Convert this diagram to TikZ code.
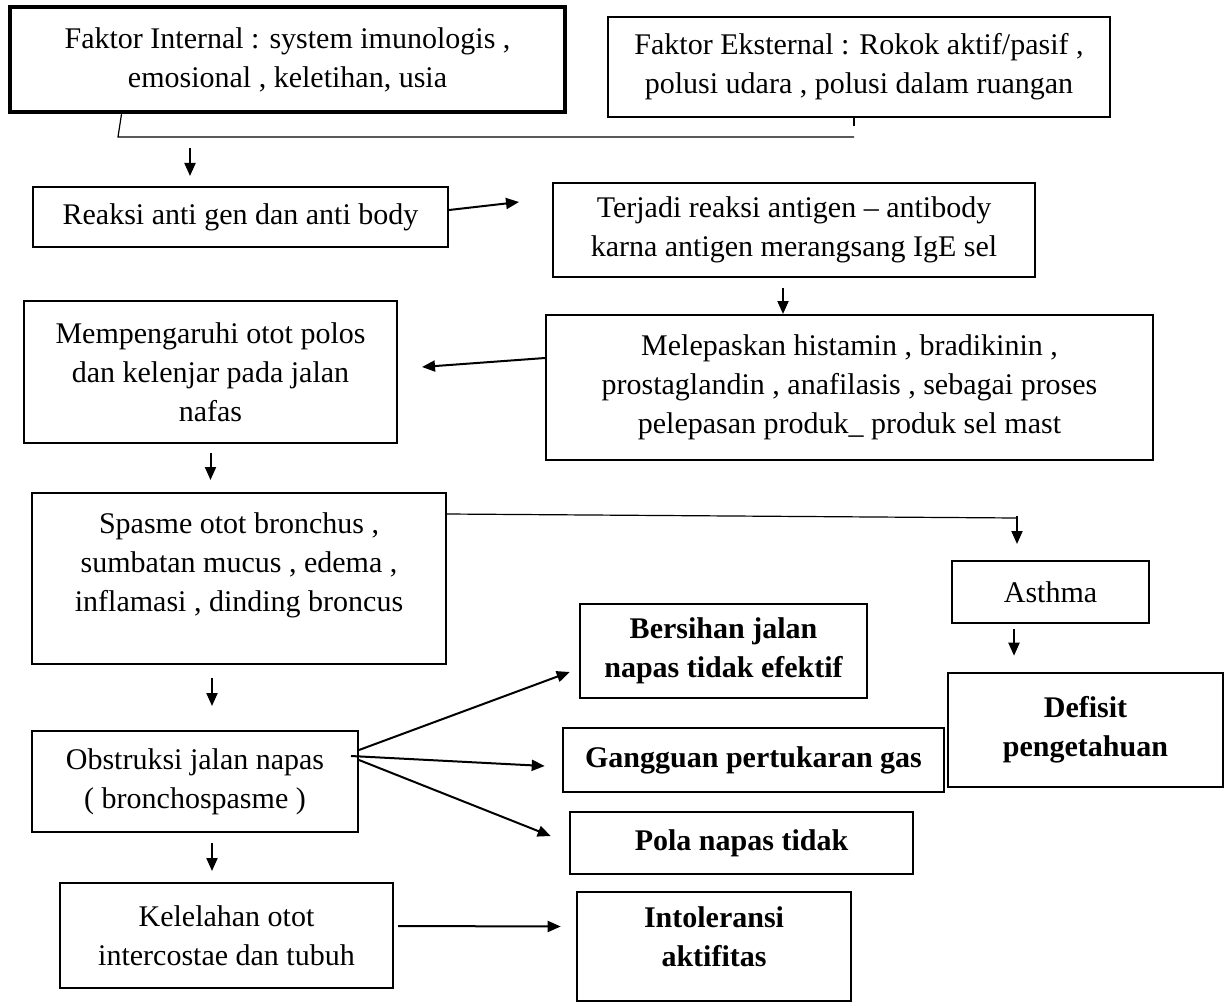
\documentclass[tikz,border=0pt]{standalone}
\usepackage{fontspec}
\setmainfont{Liberation Serif}
\usetikzlibrary{arrows.meta}
\tikzset{
every picture/.style={x=1pt,y=-1pt},
box/.style={draw, line width=2pt, inner sep=0pt, align=center, font=\fontsize{30}{39}\selectfont},
boldbox/.style={box, line width=2.6pt, font=\fontsize{30}{39}\selectfont\bfseries},
arr/.style={line width=2pt, -{Triangle[length=13pt,width=11pt]}},
link/.style={line width=1.2pt}
}

\begin{document}
\begin{tikzpicture}
  \useasboundingbox[fill=white] (0,0) rectangle (1230,1003);
  \node[box, line width=4.5pt, minimum width=555pt, minimum height=105pt] (internal) at (287.5,59.5) {Faktor Internal : system imunologis ,\\ emosional , keletihan, usia};
  \node[box, minimum width=502pt, minimum height=100pt] (external) at (859,67) {Faktor Eksternal : Rokok aktif/pasif ,\\ polusi udara , polusi dalam ruangan};
  \node[box, minimum width=415pt, minimum height=60pt] (reaksi) at (240.5,217) {Reaksi anti gen dan anti body};
  \node[box, minimum width=482pt, minimum height=94pt] (terjadi) at (794,230) {Terjadi reaksi antigen \textendash{} antibody\\ karna antigen merangsang IgE sel};
  \node[box, minimum width=607pt, minimum height=145pt] (lepas) at (849.5,387.5) {Melepaskan histamin , bradikinin ,\\ prostaglandin , anafilasis , sebagai proses\\ pelepasan produk\_ produk sel mast};
  \node[box, minimum width=373pt, minimum height=142pt] (pengaruh) at (210.5,372) {Mempengaruhi otot polos\\ dan kelenjar pada jalan\\ nafas};
  \node[box, minimum width=414pt, minimum height=171pt, text depth=32pt] (spasme) at (239,578.5) {Spasme otot bronchus ,\\ sumbatan mucus , edema ,\\ inflamasi , dinding broncus};
  \node[box, minimum width=197pt, minimum height=62pt] (asthma) at (1050.5,592) {Asthma};
  \node[boldbox, minimum width=287pt, minimum height=94pt] (bersih) at (723.5,651) {Bersihan jalan\\ napas tidak efektif};
  \node[boldbox, minimum width=275pt, minimum height=114pt] (defisit) at (1085.5,730) {Defisit\\ pengetahuan};
  \node[box, minimum width=326pt, minimum height=101pt] (obstruksi) at (195,781.5) {Obstruksi jalan napas\\ ( bronchospasme )};
  \node[boldbox, minimum width=381pt, minimum height=64pt] (gangguan) at (753.5,760) {Gangguan pertukaran gas};
  \node[boldbox, minimum width=343pt, minimum height=62pt] (pola) at (741.5,843) {Pola napas tidak};
  \node[box, minimum width=333pt, minimum height=105pt] (lelah) at (226.5,935.5) {Kelelahan otot\\ intercostae dan tubuh};
  \node[boldbox, minimum width=274pt, minimum height=109pt, text depth=20pt] (intol) at (714,946.5) {Intoleransi\\ aktifitas};

  \draw[link] ([xshift=-166pt]internal.south) -- (118,137) -- (854,137);
  \draw[link] ([xshift=-5pt]external.south) -- ++(0,8);
  \coordinate (drop) at (190,137);
  \draw[arr, shorten <=11pt, shorten >=10pt] (drop) -- (drop |- reaksi.north);
  \draw[arr] ([yshift=7pt]reaksi.east) -- ([xshift=-33pt,yshift=28pt]terjadi.west);
  \draw[arr, shorten <=10pt] ([xshift=-11pt]terjadi.south) -- ([xshift=-11pt]terjadi.south |- lepas.north);
  \draw[arr] ([yshift=29.5pt]lepas.west) -- ([xshift=24pt,yshift=5pt]pengaruh.east);
  \draw[arr, shorten <=9pt, shorten >=12pt] (pengaruh.south) -- (pengaruh.south |- spasme.north);
  \draw[link] ([yshift=-22pt]spasme.north east) -- ([xshift=-33.5pt,yshift=42pt]asthma.north);
  \draw[arr, shorten >=16pt] ([xshift=-33.5pt,yshift=44pt]asthma.north) -- ([xshift=-33.5pt]asthma.north);
  \draw[arr, shorten <=5pt, shorten >=16pt] ([xshift=-36.5pt]asthma.south) -- ([xshift=-36.5pt]asthma.south |- defisit.north);
  \draw[arr, shorten <=13pt, shorten >=24pt] ([xshift=-27pt]spasme.south) -- ([xshift=-27pt]spasme.south |- obstruksi.north);
  \draw[arr] ([yshift=31.5pt]obstruksi.east) -- ([xshift=-9pt,yshift=-21pt]bersih.west);
  \draw[arr] ([xshift=-8pt,yshift=25.5pt]obstruksi.east) -- ([xshift=-17pt,yshift=-6pt]gangguan.west);
  \draw[arr] ([yshift=21.5pt]obstruksi.east) -- ([xshift=-18pt,yshift=7pt]pola.west);
  \draw[arr, shorten <=10pt, shorten >=11pt] ([xshift=17pt]obstruksi.south) -- ([xshift=17pt]obstruksi.south |- lelah.north);
  \draw[arr] ([xshift=4pt,yshift=9.5pt]lelah.east) -- ([xshift=-15pt,yshift=20pt]intol.west);
\end{tikzpicture}
\end{document}
